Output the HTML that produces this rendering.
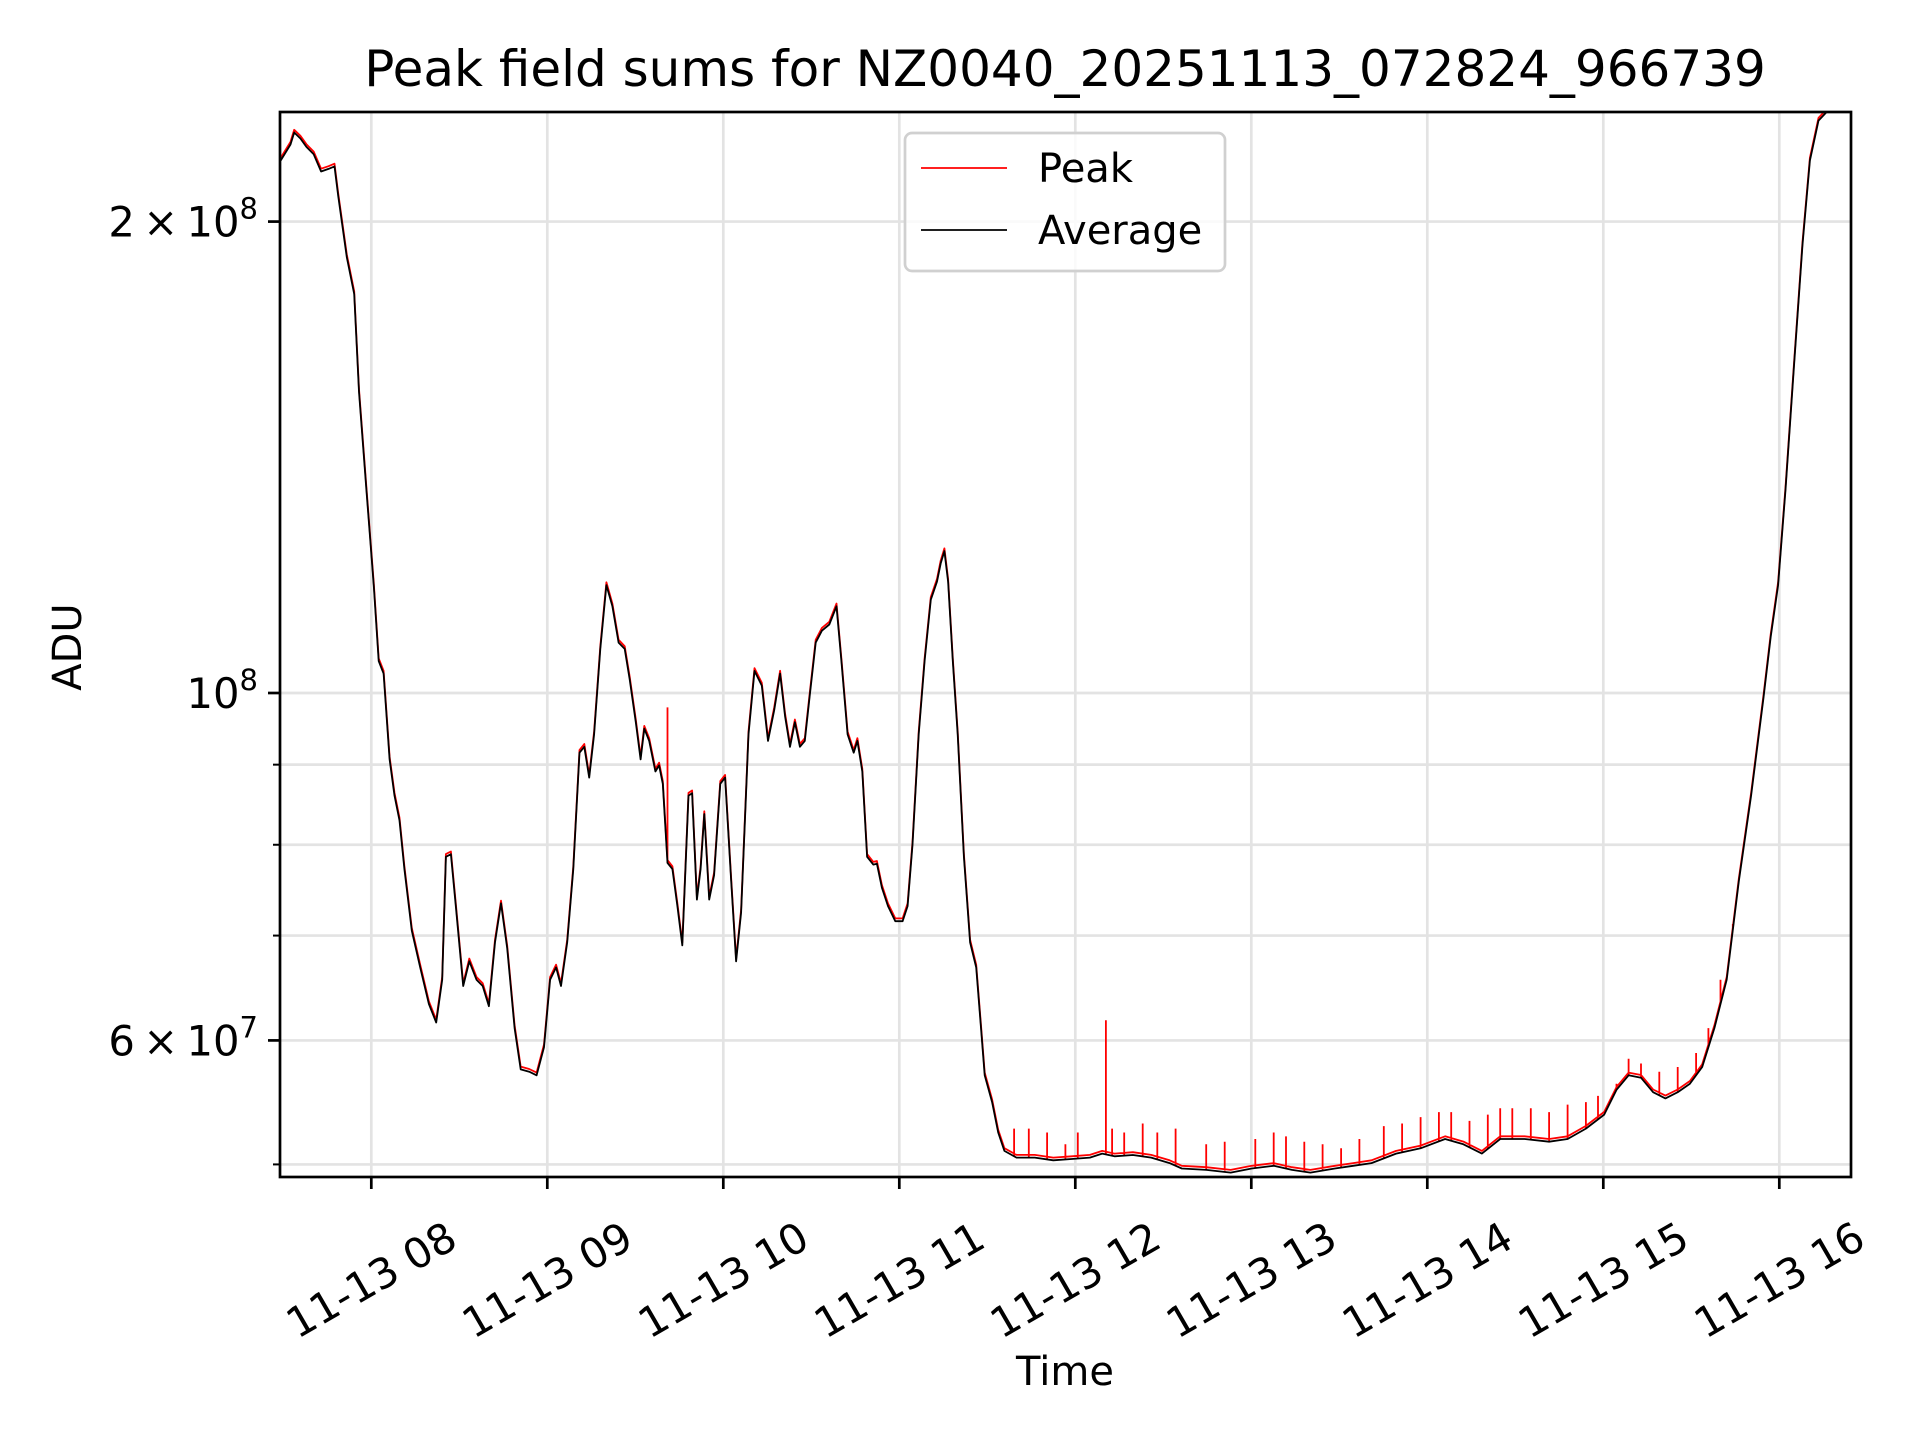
<!DOCTYPE html>
<html><head><meta charset="utf-8"><style>
html,body{margin:0;padding:0;background:#fff;}
svg{display:block;font-family:"DejaVu Sans","Liberation Sans",sans-serif;}
</style></head><body>
<svg id="chart" width="1920" height="1440" viewBox="0 0 1920 1440" xmlns="http://www.w3.org/2000/svg">
<rect width="1920" height="1440" fill="#fff"/>
<defs><clipPath id="plotclip"><rect x="280" y="112" width="1571" height="1065"/></clipPath></defs>
<g id="grid"></g>
<g id="series" clip-path="url(#plotclip)"></g>
<rect x="280" y="112" width="1571" height="1065" fill="none" stroke="#000" stroke-width="2.7"/>
<g id="ticks"></g>
<text x="1065" y="86" font-size="50" text-anchor="middle">Peak field sums for NZ0040_20251113_072824_966739</text>
<text x="81" y="647" font-size="40" text-anchor="middle" transform="rotate(-90 81 647)">ADU</text>
<text x="1065" y="1385" font-size="40" text-anchor="middle">Time</text>
<g>
<rect x="905" y="133" width="320" height="138" rx="7" fill="#fff" fill-opacity="0.8" stroke="#d0d0d0" stroke-width="2.7"/>
<line x1="921" y1="168" x2="1007" y2="168" stroke="#f00" stroke-width="1.7"/>
<text x="1038" y="182" font-size="40">Peak</text>
<line x1="921" y1="230" x2="1007" y2="230" stroke="#000" stroke-width="1.7"/>
<text x="1038" y="244" font-size="40">Average</text>
</g>
</svg>
<script>
// time in hours (decimal), values in units of 1e7 ADU
const avgTimes = [7.485,7.541,7.562,7.597,7.631,7.673,7.715,7.757,7.791,7.812,7.861,7.903,7.930,7.972,8.014,8.042,8.070,8.104,8.132,8.160,8.188,8.230,8.278,8.327,8.369,8.403,8.424,8.452,8.480,8.522,8.557,8.598,8.633,8.668,8.703,8.737,8.772,8.814,8.849,8.897,8.939,8.981,9.016,9.050,9.078,9.113,9.148,9.183,9.210,9.238,9.266,9.301,9.336,9.370,9.405,9.440,9.468,9.503,9.530,9.551,9.579,9.614,9.635,9.656,9.683,9.711,9.739,9.767,9.802,9.823,9.850,9.871,9.892,9.920,9.948,9.983,10.010,10.045,10.073,10.101,10.143,10.177,10.219,10.254,10.289,10.323,10.351,10.379,10.407,10.435,10.463,10.490,10.525,10.560,10.602,10.643,10.671,10.706,10.741,10.762,10.790,10.817,10.852,10.873,10.901,10.936,10.977,11.019,11.047,11.075,11.110,11.144,11.179,11.214,11.235,11.256,11.277,11.304,11.332,11.367,11.402,11.437,11.464,11.485,11.527,11.562,11.597,11.666,11.770,11.875,11.979,12.083,12.153,12.223,12.327,12.431,12.536,12.605,12.744,12.883,13.002,13.127,13.231,13.336,13.475,13.579,13.683,13.823,13.962,14.101,14.205,14.310,14.414,14.553,14.692,14.797,14.901,15.005,15.075,15.144,15.214,15.283,15.353,15.423,15.492,15.562,15.631,15.701,15.770,15.840,15.910,15.951,15.993,16.035,16.083,16.132,16.174,16.223,16.271,16.403];
const avgValues = [21.88,22.4,22.8,22.6,22.32,22.08,21.53,21.61,21.69,20.77,18.98,17.98,15.57,13.48,11.7,10.48,10.29,9.07,8.6,8.29,7.72,7.05,6.68,6.33,6.16,6.56,7.86,7.89,7.31,6.5,6.74,6.56,6.5,6.31,6.93,7.34,6.87,6.11,5.75,5.73,5.70,5.94,6.56,6.68,6.5,6.93,7.72,9.16,9.24,8.83,9.41,10.67,11.72,11.36,10.77,10.67,10.2,9.58,9.07,9.49,9.32,8.91,8.99,8.75,7.79,7.72,7.31,6.9,8.6,8.63,7.38,7.72,8.37,7.38,7.65,8.75,8.83,7.58,6.74,7.24,9.41,10.33,10.11,9.32,9.75,10.29,9.66,9.24,9.58,9.24,9.32,9.93,10.77,10.96,11.06,11.36,10.48,9.41,9.16,9.32,8.91,7.86,7.77,7.78,7.51,7.31,7.15,7.15,7.31,8.0,9.41,10.48,11.47,11.78,12.1,12.32,11.78,10.48,9.41,7.86,6.93,6.68,6.11,5.7,5.48,5.24,5.10,5.05,5.05,5.03,5.04,5.05,5.08,5.06,5.07,5.05,5.01,4.97,4.96,4.94,4.97,4.99,4.96,4.94,4.97,4.99,5.01,5.08,5.12,5.19,5.15,5.08,5.19,5.19,5.17,5.19,5.27,5.38,5.58,5.70,5.68,5.56,5.51,5.56,5.63,5.77,6.11,6.56,7.58,8.6,9.93,10.86,11.72,13.48,16.14,19.33,21.88,23.2,23.51,24.0];
// spikes of the Peak series above the average
const spikeTimes = [9.683,11.652,11.736,11.840,11.944,12.014,12.174,12.209,12.278,12.383,12.466,12.570,12.744,12.849,13.023,13.127,13.197,13.301,13.405,13.510,13.614,13.753,13.857,13.962,14.066,14.136,14.240,14.344,14.414,14.483,14.588,14.692,14.797,14.901,14.970,15.075,15.144,15.214,15.318,15.423,15.527,15.597,15.666,15.736];
const spikeValues = [9.79,5.27,5.27,5.24,5.15,5.24,6.18,5.27,5.24,5.31,5.24,5.27,5.15,5.17,5.19,5.24,5.21,5.17,5.15,5.12,5.19,5.29,5.31,5.36,5.40,5.40,5.33,5.38,5.43,5.43,5.43,5.40,5.46,5.48,5.53,5.63,5.84,5.80,5.73,5.77,5.89,6.11,6.56,7.12];
const xTickHours = [8,9,10,11,12,13,14,15,16];
const xTickLabels = ["11-13 08","11-13 09","11-13 10","11-13 11","11-13 12","11-13 13","11-13 14","11-13 15","11-13 16"];
const yMajorValues = [20,10,6];
const yMajorBase = ["2\u2009\u00d7\u200910","10","6\u2009\u00d7\u200910"];
const yMajorExp = ["8","8","7"];
const yMinorValues = [5,7,8,9];

const NS = "http://www.w3.org/2000/svg";
function xScale(h){ return 371.3 + (h - 8) * 176.0; }
function yScale(v){ return 693 - 1566 * Math.log10(v / 10); }
function mk(tag, attrs, parent){ const e = document.createElementNS(NS, tag); for (const k in attrs) e.setAttribute(k, attrs[k]); parent.appendChild(e); return e; }
function interpAvg(t){
  for (let i = 0; i < avgTimes.length - 1; i++){
    if (t >= avgTimes[i] && t <= avgTimes[i+1]){
      const f = (t - avgTimes[i]) / (avgTimes[i+1] - avgTimes[i]);
      return avgValues[i] + f * (avgValues[i+1] - avgValues[i]);
    }
  }
  return avgValues[avgValues.length - 1];
}
const grid = document.getElementById('grid');
const ticks = document.getElementById('ticks');
const series = document.getElementById('series');

xTickHours.forEach((h, i) => {
  const x = xScale(h);
  const g = mk('line', {x1:x, y1:112, x2:x, y2:1177, stroke:'#e3e3e3', 'stroke-width':2.7}, grid);
  
  
  const t = mk('line', {x1:x, y1:1177, x2:x, y2:1189, stroke:'#000', 'stroke-width':2.7}, ticks);
  
  
  const lb = mk('text', {x:x, y:1280, 'font-size':41.7, 'text-anchor':'middle', 'dominant-baseline':'central', transform:'rotate(-30 ' + x + ' 1280)'}, ticks);
  lb.textContent = xTickLabels[i];
  
  
});
yMajorValues.forEach((v, i) => {
  const y = yScale(v);
  const g = mk('line', {x1:280, y1:y, x2:1851, y2:y, stroke:'#e3e3e3', 'stroke-width':2.7}, grid);
  
  
  const t = mk('line', {x1:268, y1:y, x2:280, y2:y, stroke:'#000', 'stroke-width':2.7}, ticks);
  
  
  const lb = mk('text', {x:258, y:y + 15, 'font-size':41.7, 'text-anchor':'end'}, ticks);
  
  
  const a = document.createElementNS(NS, 'tspan'); a.textContent = yMajorBase[i]; lb.appendChild(a);
  const b = document.createElementNS(NS, 'tspan'); b.setAttribute('dy', '-18'); b.setAttribute('font-size', '29'); b.textContent = yMajorExp[i]; lb.appendChild(b);
});
yMinorValues.forEach(v => {
  const y = yScale(v);
  const g = mk('line', {x1:280, y1:y, x2:1851, y2:y, stroke:'#e3e3e3', 'stroke-width':2.7}, grid);
  
  
  const t = mk('line', {x1:273, y1:y, x2:280, y2:y, stroke:'#000', 'stroke-width':2}, ticks);
  
  
});

// Peak series: base along average, with spikes
let pd = '';
avgTimes.forEach((t, i) => { pd += (i ? 'L' : 'M') + xScale(t).toFixed(1) + ',' + yScale(avgValues[i] * 1.004).toFixed(1); });
spikeTimes.forEach((t, i) => {
  const x = xScale(t).toFixed(1);
  pd += 'M' + x + ',' + yScale(interpAvg(t)).toFixed(1) + 'L' + x + ',' + yScale(spikeValues[i]).toFixed(1);
});
const peak = mk('path', {d:pd, fill:'none', stroke:'#f00', 'stroke-width':1.8, 'stroke-linejoin':'round'}, series);



let ad = '';
avgTimes.forEach((t, i) => { ad += (i ? 'L' : 'M') + xScale(t).toFixed(1) + ',' + yScale(avgValues[i]).toFixed(1); });
const avg = mk('path', {d:ad, fill:'none', stroke:'#000', 'stroke-width':1.8, 'stroke-linejoin':'round'}, series);


</script>
</body></html>
